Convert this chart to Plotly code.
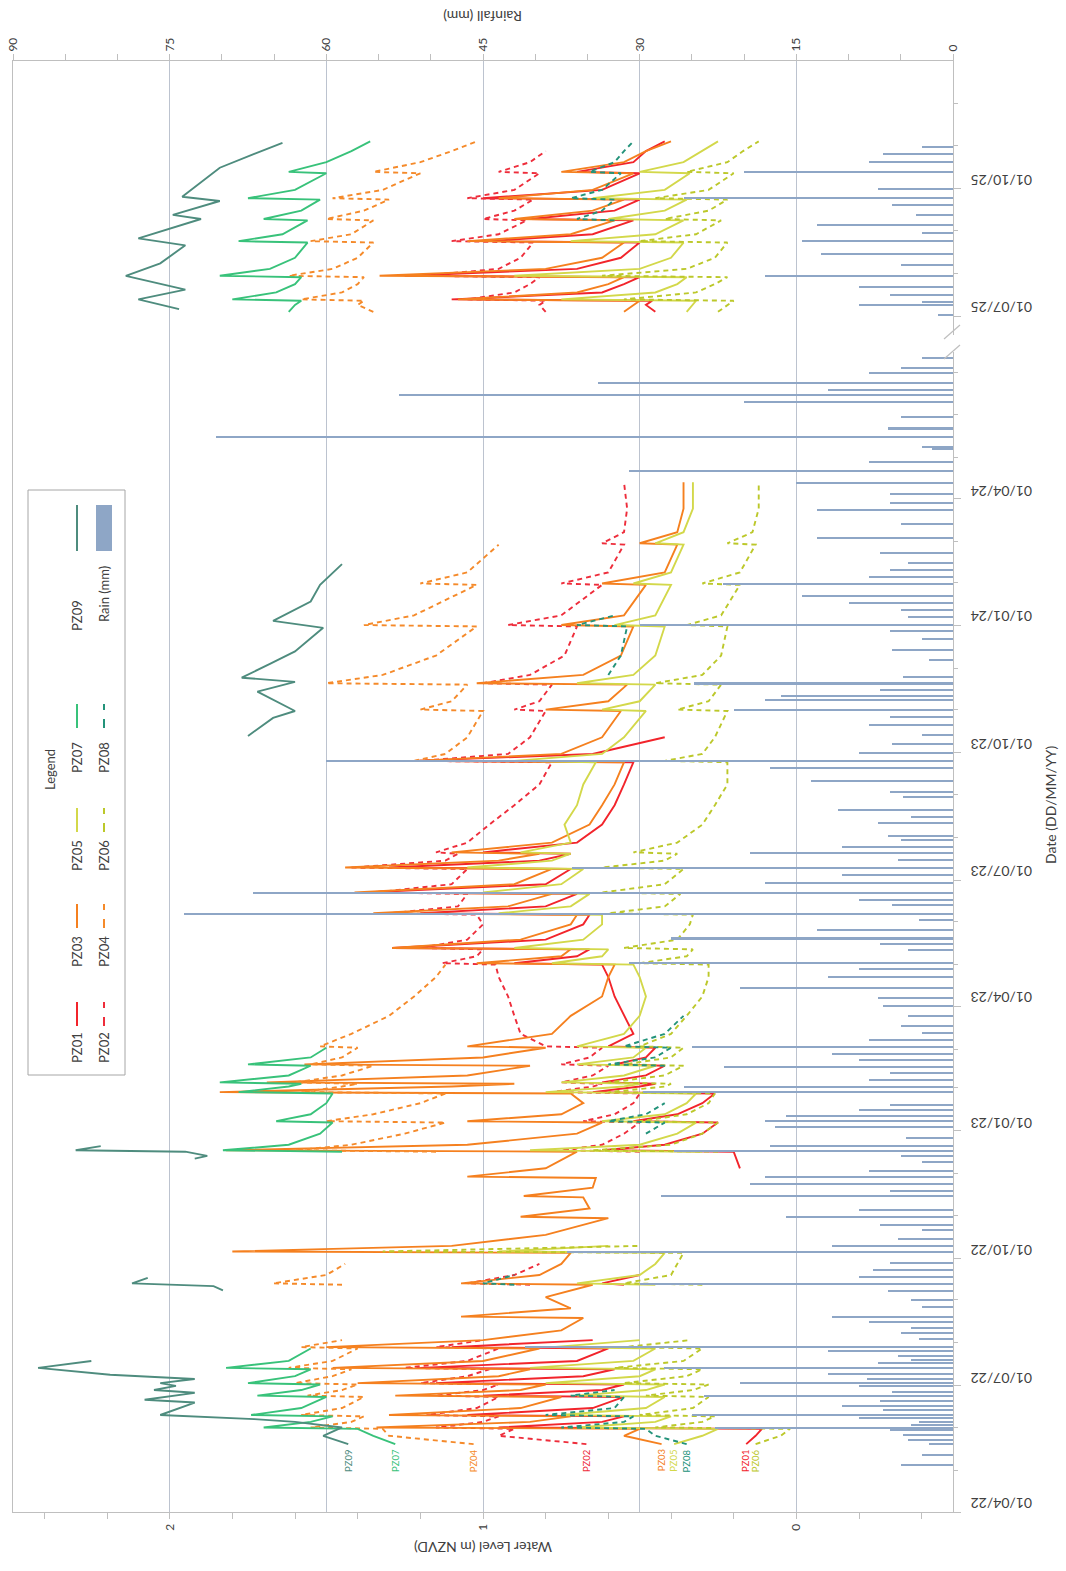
import plotly.graph_objects as go
import pandas as pd

# ---------------- data ----------------
DATES_A = [
    "2022-05-20","2022-05-26","2022-05-31","2022-06-01","2022-06-05","2022-06-09","2022-06-10","2022-06-15","2022-06-23","2022-06-24",
    "2022-06-28","2022-07-02","2022-07-03","2022-07-08","2022-07-13","2022-07-14","2022-07-19","2022-07-28","2022-07-29","2022-08-03",
    "2022-08-10","2022-08-19","2022-08-20","2022-08-26","2022-09-03","2022-09-12","2022-09-13","2022-09-19","2022-09-27","2022-10-05",
    "2022-10-06","2022-10-10","2022-10-18","2022-10-30","2022-10-31","2022-11-06","2022-11-14","2022-11-15","2022-11-21","2022-11-28",
    "2022-11-29","2022-12-05","2022-12-17","2022-12-18","2022-12-22","2022-12-30","2023-01-07","2023-01-08","2023-01-13","2023-01-21",
    "2023-01-28","2023-01-29","2023-02-02","2023-02-04","2023-02-05","2023-02-10","2023-02-17","2023-02-18","2023-02-23","2023-03-02",
    "2023-03-03","2023-03-12","2023-03-25","2023-04-08","2023-04-22","2023-05-01","2023-05-02","2023-05-07","2023-05-12","2023-05-13",
    "2023-05-19","2023-05-30","2023-06-06","2023-06-07","2023-06-12","2023-06-21","2023-06-22","2023-06-28","2023-07-09","2023-07-10",
    "2023-07-15","2023-07-20","2023-07-21","2023-07-28","2023-08-10","2023-08-24","2023-09-08","2023-09-24","2023-09-25","2023-09-30",
    "2023-10-12","2023-10-31","2023-11-01","2023-11-07","2023-11-19","2023-11-20","2023-11-26","2023-12-10","2023-12-31","2024-01-01",
    "2024-01-08","2024-01-30","2024-01-31","2024-02-08","2024-02-28","2024-02-29","2024-03-08","2024-03-25","2024-04-13",
]
DATES_B = [
    "2025-07-04","2025-07-09","2025-07-12","2025-07-13","2025-07-18","2025-07-24","2025-07-29","2025-07-30","2025-08-04","2025-08-12",
    "2025-08-23","2025-08-24","2025-08-29","2025-09-08","2025-09-09","2025-09-15","2025-09-23","2025-09-24","2025-09-30","2025-10-12",
    "2025-10-13","2025-10-20","2025-10-28","2025-11-04",
]
N = None

PZ01_A = [0.16,0.13,0.11,0.95,0.62,0.55,1.05,0.65,0.55,1.00,
          0.62,0.55,1.15,0.68,0.58,1.20,0.70,0.60,1.10,0.65,
          N,N,N,N,N,0.55,0.62,0.50,N,N,
          N,N,N,N,N,N,N,N,N,N,
          N,0.18,0.20,0.62,0.42,0.30,0.25,0.52,0.38,0.30,
          0.26,0.65,0.50,0.45,0.62,0.48,0.42,0.58,0.48,0.45,
          0.60,0.52,0.55,0.58,0.60,0.62,0.90,0.70,0.66,1.29,
          0.80,0.68,0.66,1.20,0.80,0.70,1.38,0.80,0.72,1.30,
          0.82,0.72,1.00,0.70,0.62,0.58,0.55,0.52,1.22,0.65,
          0.42,N,N,N,N,N,N,N,N,N,
          N,N,N,N,N,N,N,N,N]
PZ02_A = [0.67,0.95,0.90,1.15,1.00,0.95,1.18,1.02,0.95,1.15,
          1.00,0.95,1.20,1.05,0.98,1.25,1.05,0.95,1.15,1.00,
          N,N,N,N,N,0.85,1.05,0.90,0.82,N,
          N,N,N,N,N,N,N,N,N,N,
          N,N,0.50,0.75,0.62,0.55,0.50,0.68,0.58,0.52,
          0.50,0.78,0.65,0.62,0.75,0.65,0.60,0.75,0.66,0.62,
          0.80,0.88,0.90,0.92,0.95,0.96,1.13,1.02,1.00,1.20,
          1.05,1.00,1.02,1.30,1.08,1.05,1.35,1.10,1.05,1.42,
          1.12,1.08,1.15,1.05,0.98,0.90,0.82,0.78,1.20,0.92,
          0.85,0.80,0.90,0.82,0.78,1.00,0.85,0.74,0.70,0.92,
          0.75,0.62,0.75,0.60,0.55,0.62,0.55,0.54,0.55]
PZ03_A = [0.43,0.55,0.50,1.34,0.85,0.72,1.30,0.88,0.75,1.28,
          0.88,0.80,1.40,0.95,0.85,1.48,1.00,0.82,1.50,1.00,
          0.75,0.68,1.07,0.72,0.80,0.65,1.07,0.82,0.75,0.72,
          1.80,1.10,0.80,0.60,0.88,0.66,0.68,0.87,0.65,0.64,
          1.05,0.80,0.70,1.82,1.05,0.70,0.62,1.05,0.75,0.68,
          0.72,1.84,1.10,0.90,1.69,1.05,0.85,1.57,1.00,0.80,
          1.05,0.78,0.72,0.62,0.60,0.58,1.02,0.75,0.72,1.29,
          0.88,0.72,0.70,1.35,0.92,0.78,1.41,0.90,0.78,1.44,
          0.95,0.82,1.10,0.78,0.66,0.62,0.58,0.55,1.22,0.75,
          0.62,0.56,0.80,0.60,0.54,1.02,0.68,0.56,0.52,0.75,
          0.55,0.48,0.62,0.42,0.38,0.50,0.38,0.36,0.36]
PZ04_A = [1.03,1.30,1.32,1.55,1.42,1.38,1.58,1.45,1.38,1.56,
          1.45,1.40,1.60,1.48,1.42,1.62,1.48,1.40,1.58,1.45,
          N,N,N,N,N,1.45,1.67,1.50,1.44,N,
          N,N,N,N,N,N,N,N,N,N,
          N,N,1.15,1.60,1.42,1.25,1.12,1.50,1.35,1.20,
          1.12,1.58,1.45,1.40,1.60,1.45,1.35,1.55,1.45,1.40,
          1.52,1.42,1.30,1.22,1.15,1.12,N,N,N,N,
          N,N,N,N,N,N,N,N,N,N,
          N,N,N,N,N,N,N,N,1.22,1.12,
          1.05,1.00,1.20,1.10,1.05,1.50,1.32,1.15,1.02,1.38,
          1.22,1.02,1.20,1.05,0.95,N,N,N,N]
PZ05_A = [0.39,0.30,0.25,0.70,0.45,0.40,0.75,0.48,0.42,0.70,
          0.48,0.42,0.80,0.50,0.45,0.85,0.52,0.45,0.78,0.50,
          N,N,N,N,N,0.45,0.70,0.50,0.45,0.42,
          0.95,0.60,N,N,N,N,N,N,N,N,
          N,N,0.30,0.85,0.50,0.38,0.32,0.62,0.42,0.35,
          0.32,0.80,0.55,0.50,0.75,0.55,0.45,0.70,0.52,0.48,
          0.70,0.55,0.50,0.48,0.50,0.52,0.78,0.62,0.60,0.90,
          0.68,0.62,0.62,0.95,0.72,0.66,1.00,0.75,0.68,1.05,
          0.78,0.72,0.88,0.72,0.74,0.70,0.68,0.64,0.90,0.62,
          0.55,0.48,0.62,0.50,0.45,0.70,0.52,0.45,0.42,0.58,
          0.45,0.40,0.52,0.40,0.36,0.45,0.36,0.33,0.33]
PZ06_A = [0.13,0.05,0.02,0.45,0.30,0.26,0.50,0.33,0.28,0.48,
          0.33,0.28,0.55,0.35,0.30,0.58,0.36,0.30,0.55,0.34,
          N,N,N,N,N,0.30,0.55,0.40,0.38,0.36,
          1.32,0.50,N,N,N,N,N,N,N,N,
          N,N,0.25,0.65,0.40,0.30,0.25,0.50,0.35,0.28,
          0.26,0.60,0.42,0.40,0.60,0.42,0.36,0.55,0.40,0.36,
          0.50,0.40,0.35,0.30,0.28,0.28,0.50,0.35,0.33,0.55,
          0.38,0.34,0.33,0.60,0.42,0.37,0.62,0.42,0.36,0.62,
          0.42,0.38,0.52,0.38,0.30,0.26,0.22,0.22,0.42,0.30,
          0.26,0.22,0.38,0.28,0.24,0.45,0.30,0.24,0.22,0.35,
          0.24,0.18,0.30,0.18,0.13,0.22,0.14,0.12,0.12]
PZ07_A = [1.28,1.35,1.40,1.70,1.55,1.48,1.74,1.58,1.50,1.72,
          1.58,1.52,1.75,1.60,1.55,1.82,1.62,1.55,N,N,
          N,N,N,N,N,N,N,N,N,N,
          N,N,N,N,N,N,N,N,N,N,
          N,N,1.45,1.83,1.62,1.52,1.48,1.66,1.55,1.50,
          1.48,1.78,1.62,1.58,1.84,1.62,1.55,1.75,1.55,1.50,
          N,N,N,N,N,N,N,N,N,N,
          N,N,N,N,N,N,N,N,N,N,
          N,N,N,N,N,N,N,N,N,N,
          N,N,N,N,N,N,N,N,N,N,
          N,N,N,N,N,N,N,N,N]
PZ08_A = [0.35,0.45,0.48,0.75,0.55,0.52,0.80,0.58,0.55,0.72,
          0.58,N,N,N,N,N,N,N,N,N,
          N,N,N,N,N,0.90,1.00,0.90,N,N,
          N,N,N,N,N,N,N,N,N,N,
          N,N,N,N,N,0.48,0.42,0.60,0.48,0.42,
          N,N,N,N,N,N,0.42,0.60,0.45,0.40,
          0.55,0.42,0.36,N,N,N,N,N,N,N,
          N,N,N,N,N,N,N,N,N,N,
          N,N,N,N,N,N,N,N,N,N,
          N,N,N,N,N,N,0.60,0.56,0.54,0.70,
          0.58,N,N,N,N,N,N,N,N]

PZ01_B = [0.45,0.48,0.46,1.10,0.62,0.55,0.50,1.25,0.70,0.56,0.50,0.98,0.65,0.52,0.85,0.58,0.50,1.00,0.62,0.50,0.70,0.52,0.48,0.42]
PZ02_B = [0.80,0.82,0.80,1.05,0.90,0.85,0.82,1.20,0.95,0.88,0.84,1.10,0.95,0.86,1.00,0.90,0.84,1.05,0.90,0.82,0.95,0.85,0.80,N]
PZ03_B = [0.55,0.52,0.50,1.08,0.70,0.60,0.55,1.33,0.80,0.62,0.55,1.05,0.72,0.58,0.90,0.65,0.55,0.95,0.65,0.52,0.75,0.55,0.48,0.40]
PZ04_B = [1.35,1.40,1.38,1.58,1.45,1.40,1.38,1.62,1.48,1.40,1.35,1.55,1.42,1.35,1.50,1.38,1.30,1.48,1.32,1.20,1.35,1.20,1.10,1.02]
PZ05_B = [0.35,0.33,0.32,0.75,0.45,0.38,0.35,0.90,0.50,0.40,0.36,0.72,0.45,0.36,0.60,0.42,0.35,0.65,0.42,0.34,0.50,0.36,0.30,0.25]
PZ06_B = [0.25,0.22,0.20,0.55,0.32,0.26,0.22,0.62,0.35,0.26,0.22,0.50,0.32,0.24,0.42,0.28,0.22,0.45,0.28,0.20,0.35,0.22,0.17,0.12]
PZ07_B = [1.62,1.60,1.58,1.80,1.66,1.60,1.58,1.84,1.68,1.60,1.56,1.78,1.64,1.56,1.70,1.58,1.52,1.75,1.60,1.50,1.62,1.50,1.42,1.36]
PZ08_B = [N,N,N,N,N,N,N,N,N,N,N,N,N,0.58,0.70,0.62,0.58,0.72,0.62,0.56,0.66,0.58,0.55,0.52]

PZ09_DATES = ["2022-05-20","2022-05-26","2022-06-01","2022-06-05","2022-06-07","2022-06-10","2022-06-19","2022-06-21",
              "2022-06-26","2022-06-28","2022-07-01","2022-07-03","2022-07-06","2022-07-09","2022-07-14","2022-07-19",
              "2022-08-01","2022-09-08","2022-09-11","2022-09-13","2022-09-17","2022-10-01",
              "2022-12-12","2022-12-14","2022-12-17","2022-12-18","2022-12-21","2023-01-01",
              "2023-10-13","2023-10-26","2023-10-31","2023-11-14","2023-11-21","2023-11-24","2023-12-04","2023-12-13",
              "2023-12-30","2024-01-04","2024-01-18","2024-01-30","2024-02-14","2024-03-01",
              "2025-07-06","2025-07-13","2025-07-20","2025-07-30","2025-08-08","2025-08-21","2025-08-26","2025-09-09",
              "2025-09-12","2025-09-22","2025-09-25","2025-10-16","2025-10-26","2025-11-03"]
PZ09_VALUES = [1.43,1.51,1.45,1.60,1.73,2.03,1.92,2.08,
               1.92,2.05,1.98,2.03,1.92,2.19,2.42,2.25,
               N,1.83,1.86,2.12,2.07,N,
               1.92,1.88,1.95,2.30,2.22,N,
               1.75,1.67,1.60,1.72,1.60,1.77,1.68,1.60,
               1.51,1.67,1.55,1.52,1.45,N,
               1.97,2.10,1.95,2.14,2.03,1.95,2.10,1.90,
               1.99,1.84,1.96,1.84,1.73,1.64]

RAIN_DATES = ["2022-05-05","2022-05-12","2022-05-20","2022-05-23","2022-05-27","2022-06-01","2022-06-05","2022-06-08","2022-06-10",
              "2022-06-14","2022-06-17","2022-06-24","2022-06-27","2022-07-03","2022-07-06","2022-07-10","2022-07-14","2022-07-18",
              "2022-07-23","2022-07-29","2022-08-04","2022-08-12","2022-08-20","2022-08-27","2022-09-08","2022-09-13","2022-09-18",
              "2022-09-23","2022-10-06","2022-10-10","2022-10-15","2022-10-22","2022-10-31","2022-11-15","2022-11-24","2022-11-29",
              "2022-12-10","2022-12-18","2022-12-21","2022-12-27","2023-01-04","2023-01-08","2023-01-12","2023-01-20","2023-01-29",
              "2023-02-02","2023-02-07","2023-02-16","2023-02-21","2023-02-26","2023-03-03","2023-03-13","2023-03-25","2023-04-01",
              "2023-04-07","2023-04-14","2023-04-22","2023-05-02","2023-05-12","2023-05-20","2023-05-26","2023-06-02","2023-06-07",
              "2023-06-13","2023-06-22","2023-06-29","2023-07-05","2023-07-10","2023-07-16","2023-07-21","2023-07-25","2023-08-02",
              "2023-08-11","2023-08-21","2023-08-30","2023-09-11","2023-09-20","2023-09-25","2023-10-01","2023-10-07","2023-10-14",
              "2023-10-21","2023-11-01","2023-11-08","2023-11-11","2023-11-20","2023-11-25","2023-12-07","2023-12-14","2023-12-22",
              "2024-01-01","2024-01-07","2024-01-17","2024-01-22","2024-01-31","2024-02-05","2024-02-15","2024-02-22","2024-03-04",
              "2024-03-24","2024-03-29","2024-04-13","2024-04-21","2024-05-07","2024-05-09","2024-05-16","2024-05-22","2024-06-10",
              "2024-06-15","2024-06-19","2024-06-24","2024-07-05","2024-07-12",
              "2025-07-02","2025-07-09","2025-07-11","2025-07-16","2025-07-22","2025-07-30","2025-08-07","2025-08-15","2025-08-24",
              "2025-08-30","2025-09-05","2025-09-12","2025-09-19","2025-09-24","2025-10-01","2025-10-13","2025-10-20","2025-10-26",
              "2025-10-31",
              "2022-05-30","2022-06-03","2022-06-20","2022-07-01","2022-07-20","2022-07-26","2022-08-08","2022-08-16","2022-09-01",
              "2022-09-28","2022-10-25","2022-11-05","2022-11-19","2022-12-03","2022-12-14","2023-01-16","2023-02-12","2023-03-08",
              "2023-03-18","2023-04-28","2023-05-16","2023-06-17","2023-07-30","2023-08-16","2023-09-03","2023-10-27","2023-11-15",
              "2023-12-28","2024-01-12","2024-02-10","2024-03-14","2024-04-05","2024-04-28","2024-05-30","2024-07-01"]
RAIN_MM = [5,3,2.3,4.3,4.8,22.8,3.3,9,25,
           6.7,10.6,23.8,5.8,20.4,8.2,12,27.7,7.2,
           5.3,41,3.3,4,11.6,3,6.2,30,9,
           7.7,37,11.6,5.3,3,16,28,19.4,18,
           3,26.7,17.5,4.5,17,18,16,6,29.7,
           25.8,8,21.9,9,11.6,25,3,4.3,6.7,
           7.2,20.4,12,31,4.3,27,13,3.3,73.6,
           5.8,67,18,10.6,36.5,5.3,19.4,10.6,6.2,
           7.2,11,4.8,13.6,17.5,60,9,5.8,3,
           8,21,18,16.5,24.8,4.8,2.3,5.8,3,
           30,4.3,10,14.5,22,8,4.3,7,13,
           13,6,15,31,2,3,70.6,6.2,20,
           53,12,34,5,3,
           1.4,9,3,6,9,18,5,12.6,14.5,
           3,13,3.5,5.8,25.8,7.2,20,8,6.7,
           3,
           6,4,7,9,4,12,5,8,4,
           6,7,9,6,8,5,9,6,8,
           5,9,7,9,5,4,6,6,7,
           6,5,6,5,6,8,5,8]

DATE_TICKS = ["2022-04-01","2022-07-01","2022-10-01","2023-01-01","2023-04-01","2023-07-01",
              "2023-10-01","2024-01-01","2024-04-01","2025-07-01","2025-10-01"]
DATE_LABELS = ["01/04/22","01/07/22","01/10/22","01/01/23","01/04/23","01/07/23",
               "01/10/23","01/01/24","01/04/24","01/07/25","01/10/25"]

SERIES = [
    # name, A values, B values, colour, dash
    ("PZ01", PZ01_A, PZ01_B, "#F2242B", "solid"),
    ("PZ02", PZ02_A, PZ02_B, "#EE2D3B", "5px,4px"),
    ("PZ03", PZ03_A, PZ03_B, "#F5801F", "solid"),
    ("PZ04", PZ04_A, PZ04_B, "#F58A2A", "5px,4px"),
    ("PZ05", PZ05_A, PZ05_B, "#D3D84A", "solid"),
    ("PZ06", PZ06_A, PZ06_B, "#BCC82A", "5px,4px"),
    ("PZ07", PZ07_A, PZ07_B, "#38C27A", "solid"),
    ("PZ08", PZ08_A, PZ08_B, "#23937A", "5px,4px"),
]
PZ09_COLOR = "#4E8C7E"
RAIN_COLOR = "#8EA6C6"

# ---------------- layout geometry ----------------
# the page body margin is removed (post_script), so figure pixels == page pixels
W, H = 1066, 1571
ML, MR, MT, MB = 13, 113, 61, 59
PW, PH = W - ML - MR, H - MT - MB          # 940 x 1451
def px(x): return (x - ML) / PW             # page pixel -> paper x
def py(y): return (MT + PH - y) / PH        # page pixel -> paper y

AXC = "#BFBFBF"
TXT = "#404040"
FONT = "Lato"

fig = go.Figure()

fig.add_trace(go.Bar(x=RAIN_MM, y=RAIN_DATES, orientation="h", xaxis="x2", yaxis="y",
                     marker=dict(color=RAIN_COLOR, line=dict(width=0)),
                     width=86400000 * 1.1, showlegend=False))

gap_date = ["2024-06-01"]
for name, a, b, col, dash in SERIES:
    fig.add_trace(go.Scatter(x=a + [None] + b, y=DATES_A + gap_date + DATES_B, mode="lines",
                             line=dict(color=col, width=1.9, dash=dash), connectgaps=False,
                             showlegend=False, name=name))
fig.add_trace(go.Scatter(x=PZ09_VALUES, y=PZ09_DATES, mode="lines",
                         line=dict(color=PZ09_COLOR, width=1.9), connectgaps=False,
                         showlegend=False, name="PZ09"))

months = [d.strftime("%Y-%m-%d") for d in pd.date_range("2022-05-01", "2025-12-01", freq="MS")]

fig.update_layout(
    width=W, height=H, margin=dict(l=ML, r=MR, t=MT, b=MB, autoexpand=False),
    paper_bgcolor="white", plot_bgcolor="white", showlegend=False, bargap=0,
    font=dict(family=FONT, color=TXT),
    xaxis=dict(range=[2.5, -0.5], tickmode="array", tickvals=[0, 1, 2], ticktext=["0", "1", "2"],
               tickangle=-90, ticks="outside", ticklen=6, tickcolor=AXC, ticklabeloverflow="allow",
               minor=dict(tickvals=[-0.4, -0.2, 0.2, 0.4, 0.6, 0.8, 1.2, 1.4, 1.6, 1.8, 2.2, 2.4],
                          ticks="outside", ticklen=6, tickcolor=AXC, showgrid=False),
               showline=True, linecolor=AXC, showgrid=False, zeroline=False, anchor="y",
               tickfont=dict(size=12, color=TXT)),
    xaxis2=dict(range=[90, 0], overlaying="x", side="top", tickmode="array",
                tickvals=[0, 15, 30, 45, 60, 75, 90], ticktext=["0", "15", "30", "45", "60", "75", "90"],
                tickangle=-90, ticks="outside", ticklen=6, tickcolor=AXC, ticklabeloverflow="allow",
                minor=dict(tickvals=[5, 10, 20, 25, 35, 40, 50, 55, 65, 70, 80, 85],
                           ticks="outside", ticklen=6, tickcolor=AXC, showgrid=False),
                showline=True, linecolor=AXC, showgrid=True, gridcolor="#BCC3CF", gridwidth=1,
                zeroline=False, anchor="y", tickfont=dict(size=12, color=TXT)),
    yaxis=dict(type="date", range=["2022-04-01", "2026-01-01"],
               rangebreaks=[dict(bounds=["2024-07-20", "2025-06-09"])],
               side="right", tickmode="array", tickvals=DATE_TICKS, showticklabels=False,
               ticks="outside", ticklen=7, tickcolor=AXC,
               minor=dict(tickvals=months, ticks="outside", ticklen=4, tickcolor=AXC, showgrid=False),
               showline=True, linecolor=AXC, mirror=True, showgrid=False, zeroline=False),
)

ann = []
shapes = []

def text_ann(text, x, y, angle, size, color=TXT, xref="paper", yref="paper", yshift=0):
    return dict(text=text, x=x, y=y, xref=xref, yref=yref, showarrow=False, textangle=angle,
                xanchor="center", yanchor="middle", yshift=yshift, font=dict(size=size, color=color, family=FONT))

# date tick labels (upside down, beside the right axis)
for d, lab in zip(DATE_TICKS, DATE_LABELS):
    ann.append(text_ann(lab, px(1002), d, 180, 14, yref="y", yshift=8))

# axis titles
ann.append(text_ann("Rainfall (mm)", px(483), py(17), 180, 14))
ann.append(text_ann("Water Level (m NZVD)", px(483), py(1547), 180, 14))
ann.append(text_ann("Date (DD/MM/YY)", px(1050), py(805), -90, 14))

# start labels for each series
for name, a, b, col, dash in SERIES:
    ann.append(text_ann(name, a[0], "2022-05-08", -90, 9.5, color=col, xref="x", yref="y"))
ann.append(text_ann("PZ09", PZ09_VALUES[0], "2022-05-08", -90, 9.5, color=PZ09_COLOR, xref="x", yref="y"))

# legend (rotated)
shapes.append(dict(type="rect", xref="paper", yref="paper", x0=px(28), x1=px(125), y0=py(1075), y1=py(490),
                   line=dict(color="#A6A6A6", width=1), fillcolor="white", layer="above"))
ann.append(text_ann("Legend", px(50), py(770), -90, 13))
text_y = [1048, 952, 856, 758, 616]
sym_y = [1014, 916, 820, 716, 528]
col_x = [77, 104]
legend_items = [(s[0], s[3], s[4]) for s in SERIES] + [("PZ09", PZ09_COLOR, "solid"), ("Rain (mm)", RAIN_COLOR, "bar")]
for i, (name, col, dash) in enumerate(legend_items):
    row, c = i // 2, i % 2
    x = col_x[c]
    ty = text_y[row] if name != "Rain (mm)" else 594
    ann.append(text_ann(name, px(x), py(ty), -90, 13))
    sy = sym_y[row]
    half = 23 if row == 4 else 12
    if dash == "bar":
        shapes.append(dict(type="rect", xref="paper", yref="paper", x0=px(x - 8), x1=px(x + 8),
                           y0=py(sy + half), y1=py(sy - half), fillcolor=col, line=dict(width=0), layer="above"))
    else:
        shapes.append(dict(type="line", xref="paper", yref="paper", x0=px(x), x1=px(x),
                           y0=py(sy + half), y1=py(sy - half),
                           line=dict(color=col, width=2, dash="dash" if dash != "solid" else "solid"),
                           layer="above"))

# axis break marks on the date axis
shapes.append(dict(type="rect", xref="paper", yref="paper", x0=px(948), x1=px(958), y0=py(352), y1=py(335),
                   fillcolor="white", line=dict(width=0), layer="above"))
for yb in (339, 359):
    shapes.append(dict(type="line", xref="paper", yref="paper", x0=px(944), x1=px(960), y0=py(yb), y1=py(yb - 14),
                       line=dict(color=AXC, width=1.2), layer="above"))

fig.update_layout(annotations=ann, shapes=shapes)
fig.write_html("out.html", config={"displayModeBar": False},
               post_script="document.body.style.margin='0';document.body.style.overflow='hidden';")
